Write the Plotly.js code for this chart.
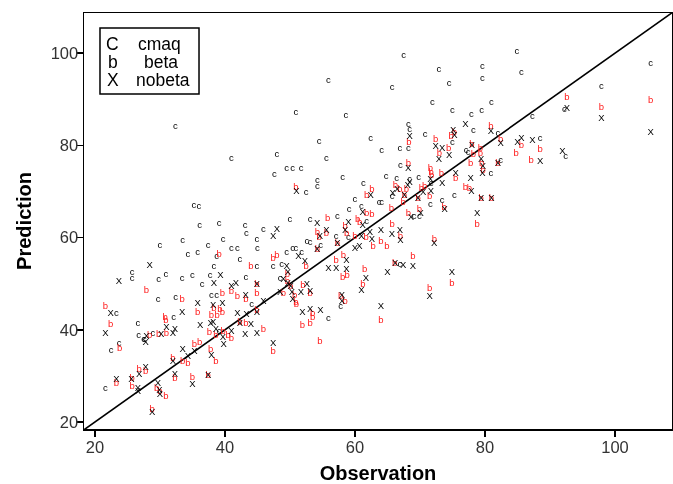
<!DOCTYPE html>
<html>
<head>
<meta charset="utf-8">
<script src="https://cdn.plot.ly/plotly-3.0.1.min.js"></script>
<style>html,body{margin:0;padding:0;background:#fff}#chart{width:673px;height:484px;will-change:transform}</style>
</head>
<body>
<div id="chart"></div>
<script>
// cmaq predictions (observation, prediction)
const cmaqObs = [32.35,55.9,50.9,58.6,54.5,62.4,67.5,84.9,72.9,79.6,85.6,65.7,74.5,79.6,71.9,81.0,75.0,77.9,79.5,68.2,68.4,78.2,82.0,70.8,68.2,75.0,66.9,64.1,77.1,105.5,97.9,92.2,87.3,88.5,92.4,41.0,35.2,36.0,36.1,39.1,30.0,33.5,39.7,41.0,34.3,35.8,37.4,38.7,38.3,25.7,25.7,29.8,30.9,33.4,35.0,36.5,37.7,48.0,55.6,49.5,50.4,51.7,47.6,58.1,54.2,54.2,52.5,61.3,60.0,63.7,61.0,59.1,57.3,50.0,53.1,61.8,57.1,59.0,52.6,53.1,54.7,45.9,43.1,43.3,44.9,41.9,45.0,42.3,49.5,50.4,50.9,51.8,44.9,47.4,48.7,43.2,48.5,77.4,82.4,80.9,67.0,64.8,66.4,68.4,69.8,71.7,75.3,65.7,64.1,71.6,73.4,69.1,69.9,66.9,29.7,32.4,37.9,38.7,23.3,32.1,26.6,26.7,27.5,28.9,27.6,23.7,22.5,39.1,21.6,44.1,55.9,57.8];
const cmaqPred = [84.0,94.0,87.1,86.4,80.9,81.5,99.4,100.3,96.4,97.1,95.8,92.5,93.5,94.5,89.2,89.3,87.5,86.7,87.5,84.5,83.5,83.1,82.5,82.3,79.4,80.6,79.3,78.9,78.9,97.7,92.8,87.8,86.2,81.5,77.5,77.2,66.9,66.7,62.5,63.1,58.3,59.3,59.6,57.7,56.4,56.7,58.2,55.9,53.6,52.3,51.2,50.8,51.9,51.0,51.7,49.9,51.7,77.9,77.2,75.0,75.0,74.9,73.6,73.1,72.3,71.0,69.7,71.6,68.2,67.6,66.7,66.0,64.5,63.8,64.0,63.4,60.3,60.1,59.1,58.9,58.2,61.8,62.7,60.9,59.5,57.7,57.5,55.3,56.7,57.5,57.5,56.7,53.6,53.7,54.1,51.3,51.2,78.4,76.8,73.9,75.7,73.2,72.8,72.5,73.1,71.8,69.2,68.9,67.6,67.1,68.0,64.5,64.5,54.1,46.6,47.0,47.5,47.5,43.6,42.7,41.3,38.7,37.9,39.1,37.8,36.9,35.5,39.6,27.2,45.4,42.5,45.0];

// beta predictions
const betaObs = [80.9,68.3,75.3,74.8,72.4,74.4,78.0,79.3,82.4,85.6,92.6,97.9,105.5,88.5,87.1,39.1,27.9,50.9,62.6,61.8,61.8,62.6,55.8,55.6,54.2,54.5,58.5,58.7,60.4,60.7,60.0,61.7,62.8,57.3,54.2,47.4,48.0,44.0,52.5,57.1,58.2,58.1,58.8,61.5,61.2,49.6,49.6,44.9,52.0,50.1,73.0,78.2,79.3,79.5,79.7,77.8,82.0,84.8,68.2,71.6,71.7,71.8,73.3,75.5,77.0,77.6,79.4,81.0,66.2,66.9,67.9,67.6,67.4,65.6,70.2,69.7,70.7,71.5,73.7,69.9,68.2,78.8,65.7,67.0,64.0,64.9,72.2,68.9,66.1,74.9,71.5,64.0,33.4,39.6,21.6,22.4,38.3,39.2,37.9,38.8,39.6,37.6,38.6,39.7,40.5,35.8,30.8,30.9,31.0,28.4,29.8,23.8,35.3,36.1,37.8,33.5,34.3,32.0,38.6,26.8,27.8,25.7,25.7,23.3,32.3,35.0,37.4,29.5,30.0,30.9,28.8,41.0,41.9,43.2,44.9,49.0,50.7,53.1,50.9,51.0,57.8,58.5,44.9,53.5,53.5,51.9,53.1,54.6,42.3,43.2,41.0,45.9,47.4];
const betaPred = [84.0,80.6,82.8,82.0,81.2,79.3,80.2,79.3,81.2,79.9,90.3,88.1,89.8,79.1,76.8,56.2,48.5,70.8,70.5,69.2,65.3,64.9,64.2,60.8,61.1,60.1,62.4,60.9,63.8,63.2,60.3,60.1,58.0,58.6,57.3,55.5,56.0,53.6,53.6,55.1,56.0,51.4,51.7,53.0,49.9,51.9,50.4,49.9,49.5,49.4,78.3,77.9,78.3,76.1,74.6,76.0,76.1,78.3,76.1,75.0,74.1,73.4,73.8,72.8,70.9,70.7,68.5,68.5,71.2,70.5,70.5,69.2,67.6,66.3,70.7,68.5,71.0,68.9,66.6,66.0,65.1,62.9,62.9,60.3,59.1,58.0,59.6,55.9,54.4,50.1,49.0,41.9,46.5,47.8,45.0,41.2,44.7,44.4,43.0,43.0,43.7,39.4,38.7,39.6,38.7,43.7,42.7,42.0,39.2,38.7,39.0,36.0,36.7,37.2,35.6,33.1,32.6,33.8,33.1,31.4,30.9,29.5,27.7,28.4,29.5,29.7,30.0,27.3,26.6,25.6,22.6,48.3,47.2,46.6,47.9,47.9,47.5,47.9,45.9,45.4,47.2,46.1,44.1,43.4,42.7,40.8,41.4,37.4,41.5,41.4,38.1,40.0,35.3];

// nobeta predictions
const nobetaObs = [77.0,80.9,68.4,75.1,75.3,72.4,73.4,78.0,82.4,85.0,85.6,92.6,97.9,105.5,87.3,91.9,88.5,28.4,23.7,38.3,39.3,41.0,51.0,62.4,61.2,54.2,55.6,54.6,59.0,58.5,61.2,61.0,62.6,62.3,57.3,60.0,60.7,54.2,48.0,47.4,51.3,52.3,58.7,55.9,57.1,58.7,61.7,49.5,49.7,49.0,49.7,41.7,44.9,52.6,50.1,72.9,74.5,79.4,79.7,79.6,82.0,68.2,68.4,71.6,73.4,75.5,77.8,77.9,79.4,81.0,66.5,68.1,65.8,67.6,70.5,71.7,69.7,73.8,70.1,68.6,78.8,64.0,65.7,66.9,67.0,72.2,66.2,67.4,68.9,65.0,74.9,71.5,64.0,35.8,22.4,33.4,38.2,39.6,37.8,38.2,38.6,39.7,39.8,31.0,32.3,32.0,36.2,27.9,30.2,27.8,21.6,33.5,35.3,37.9,34.3,32.0,27.8,26.8,25.6,26.6,26.6,23.3,32.3,35.0,37.4,29.7,29.9,30.0,28.8,43.2,48.5,50.3,51.7,53.1,50.4,58.0,58.0,61.0,45.9,44.9,51.9,53.1,54.7,41.9,43.3,42.3,44.0,41.0,43.1,44.9,47.4];
const nobetaPred = [84.4,82.9,81.8,83.1,82.2,79.7,79.4,79.9,80.4,80.7,81.5,88.0,85.8,82.8,81.1,78.7,76.5,53.9,50.4,50.1,51.7,49.4,70.0,69.2,65.4,63.0,61.6,60.2,63.2,61.6,62.7,60.3,59.5,61.1,58.6,57.7,58.0,57.3,61.8,60.2,55.9,54.8,55.1,53.3,53.3,53.1,51.2,53.6,52.4,50.8,50.1,50.1,49.9,49.7,49.4,77.0,77.7,77.0,75.5,73.9,76.1,75.0,71.9,72.5,71.8,73.9,72.8,70.0,68.5,68.5,70.3,71.2,69.6,69.2,69.7,70.0,68.5,66.1,65.3,64.4,65.1,61.6,60.6,61.6,59.3,58.6,54.3,53.9,53.7,52.4,52.3,47.2,45.0,45.7,43.4,43.7,45.2,45.6,41.3,41.5,40.0,38.4,36.7,40.5,40.1,39.2,41.0,38.5,38.9,37.2,39.1,35.8,35.2,34.5,34.2,33.1,31.8,30.2,29.1,27.3,26.6,29.1,30.2,28.2,30.0,28.4,26.9,25.9,22.0,47.5,48.0,48.0,48.0,48.3,46.5,47.5,46.1,48.5,46.1,43.7,43.7,44.4,44.1,43.4,43.2,41.4,41.2,39.6,38.9,39.1,37.1];

const refLine = [10, 120];
const tickVals = [20, 40, 60, 80, 100];
const legendSymbols = ["C", "b", "X"];
const legendLabels = ["cmaq", "beta", "nobeta"];

const markFont = {family: "Liberation Sans, Arial, sans-serif", size: 9.5};

const traces = [
  {x: refLine, y: refLine, mode: "lines", line: {color: "#000", width: 1.6}, hoverinfo: "skip"},
  {x: cmaqObs, y: cmaqPred, mode: "text", text: cmaqObs.map(() => "c"), textposition: "middle center",
   textfont: Object.assign({color: "#000"}, markFont)},
  {x: betaObs, y: betaPred, mode: "text", text: betaObs.map(() => "b"), textposition: "middle center",
   textfont: Object.assign({color: "#ff1a1a"}, markFont)},
  {x: nobetaObs, y: nobetaPred, mode: "text", text: nobetaObs.map(() => "X"), textposition: "middle center",
   textfont: Object.assign({color: "#000"}, markFont)}
];

// legend drawn as a boxed block in the top-left corner
const legX0 = 0.0272, legX1 = 0.1956, legY0 = 0.805, legY1 = 0.964;
const rowsY = [0.9255, 0.882, 0.839];
const labelX = [0.1276, 0.1313, 0.1344];
const annotations = [];
legendSymbols.forEach((s, i) => {
  annotations.push({xref: "paper", yref: "paper", x: 0.0493, y: rowsY[i], text: s, showarrow: false,
    xanchor: "center", yanchor: "middle", font: {family: "Liberation Sans, Arial", size: 17.5, color: "#000"}});
  annotations.push({xref: "paper", yref: "paper", x: labelX[i], y: rowsY[i], text: legendLabels[i], showarrow: false,
    xanchor: "center", yanchor: "middle", font: {family: "Liberation Sans, Arial", size: 17.5, color: "#000"}});
});

const axisCommon = {
  tickvals: tickVals, ticks: "outside", ticklen: 6, tickwidth: 1.5, tickcolor: "#000",
  showline: true, mirror: true, linecolor: "#000", linewidth: 1.5,
  showgrid: false, zeroline: false,
  tickfont: {family: "Liberation Sans, Arial", size: 16.5, color: "#333"}
};

const layout = {
  width: 673, height: 484,
  margin: {l: 84, r: 1, t: 13, b: 55},
  paper_bgcolor: "#fff", plot_bgcolor: "#fff",
  showlegend: false,
  xaxis: Object.assign({}, axisCommon, {range: [18.31, 108.77], ticklabelstandoff: -3,
    title: {text: "<b>Observation</b>", font: {family: "Liberation Sans, Arial", size: 20, color: "#000"}, standoff: 11}}),
  yaxis: Object.assign({}, axisCommon, {range: [18.48, 108.72], ticklabelstandoff: -5,
    title: {text: "<b>Prediction</b>", font: {family: "Liberation Sans, Arial", size: 20, color: "#000"}, standoff: 13}}),
  shapes: [{type: "rect", xref: "paper", yref: "paper", x0: legX0, x1: legX1, y0: legY0, y1: legY1,
    line: {color: "#000", width: 1.5}, fillcolor: "rgba(0,0,0,0)"}],
  annotations: annotations
};

Plotly.newPlot("chart", traces, layout, {staticPlot: true, displayModeBar: false});
</script>
</body>
</html>
